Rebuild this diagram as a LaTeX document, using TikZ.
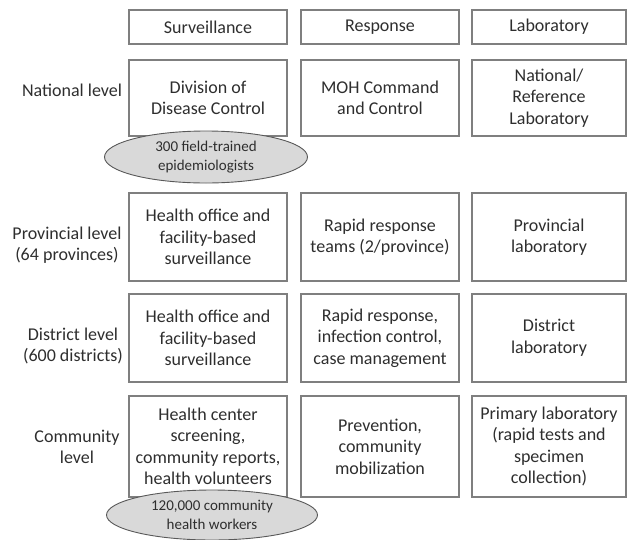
\documentclass[tikz,border=0pt]{standalone}
\usepackage{fontspec}
\setmainfont{Carlito}
\usetikzlibrary{shapes.geometric}
\definecolor{boxline}{HTML}{7F7F7F}
\definecolor{txt}{HTML}{2E2E2E}
\definecolor{ovalfill}{HTML}{D9D9D9}
\definecolor{ovalline}{HTML}{595959}
\tikzset{
  cell/.style={draw=boxline, line width=1.1pt, text=txt, align=center,
    minimum width=158pt, inner sep=0pt, font=\fontsize{18}{21.5}\selectfont},
  levellabel/.style={text=txt, align=center, font=\fontsize{18}{21.5}\selectfont},
  oval/.style={ellipse, draw=ovalline, fill=ovalfill, line width=0.9pt,
    text=txt, align=center, inner sep=0pt, font=\fontsize{15}{19}\selectfont}
}
\begin{document}
\begin{tikzpicture}[x=1pt,y=-1pt]
    \useasboundingbox (0,0) rectangle (627,539);
    % column headers
    \node[cell, minimum height=34pt] (survhead) at (208,27) {Surveillance};
    \node[cell, minimum height=34pt] (resphead) at (380,27) {Response};
    \node[cell, minimum height=34pt, minimum width=154pt] (labhead) at (549,27) {Laboratory};
    % national level
    \node[levellabel] (natlabel) at (72,90) {National level};
    \node[cell, minimum height=76pt] (natsurv) at (208,98) {Division of\\Disease Control};
    \node[cell, minimum height=76pt] (natresp) at (380,98) {MOH Command\\and Control};
    \node[cell, minimum height=76pt, minimum width=154pt] (natlab) at (549,98) {National/\\Reference\\Laboratory};
    \node[oval, minimum width=203pt, minimum height=52pt] (epioval) at (206,157) {300 field-trained\\epidemiologists};
    % provincial level
    \node[levellabel] (provlabel) at (67,245) {Provincial level\\(64 provinces)};
    \node[cell, minimum height=88pt] (provsurv) at (208,237) {Health office and\\facility-based\\surveillance};
    \node[cell, minimum height=88pt] (provresp) at (380,237) {Rapid response\\teams (2/province)};
    \node[cell, minimum height=88pt, minimum width=154pt] (provlab) at (549,237) {Provincial\\laboratory};
    % district level
    \node[levellabel] (distlabel) at (73,346) {District level\\(600 districts)};
    \node[cell, minimum height=88pt] (distsurv) at (208,338) {Health office and\\facility-based\\surveillance};
    \node[cell, minimum height=88pt] (distresp) at (380,338) {Rapid response,\\infection control,\\case management};
    \node[cell, minimum height=88pt, minimum width=154pt] (distlab) at (549,338) {District\\laboratory};
    % community level
    \node[levellabel] (commlabel) at (77,447) {Community\\level};
    \node[cell, minimum height=101pt] (commsurv) at (208,446.5) {Health center\\screening,\\community reports,\\health volunteers};
    \node[cell, minimum height=101pt] (commresp) at (380,446.5) {Prevention,\\community\\mobilization};
    \node[cell, minimum height=101pt, minimum width=154pt] (commlab) at (549,446.5) {Primary laboratory\\(rapid tests and\\specimen\\collection)};
    \node[oval, minimum width=211pt, minimum height=50pt] (chwoval) at (212,515) {120,000 community\\health workers};
\end{tikzpicture}
\end{document}
